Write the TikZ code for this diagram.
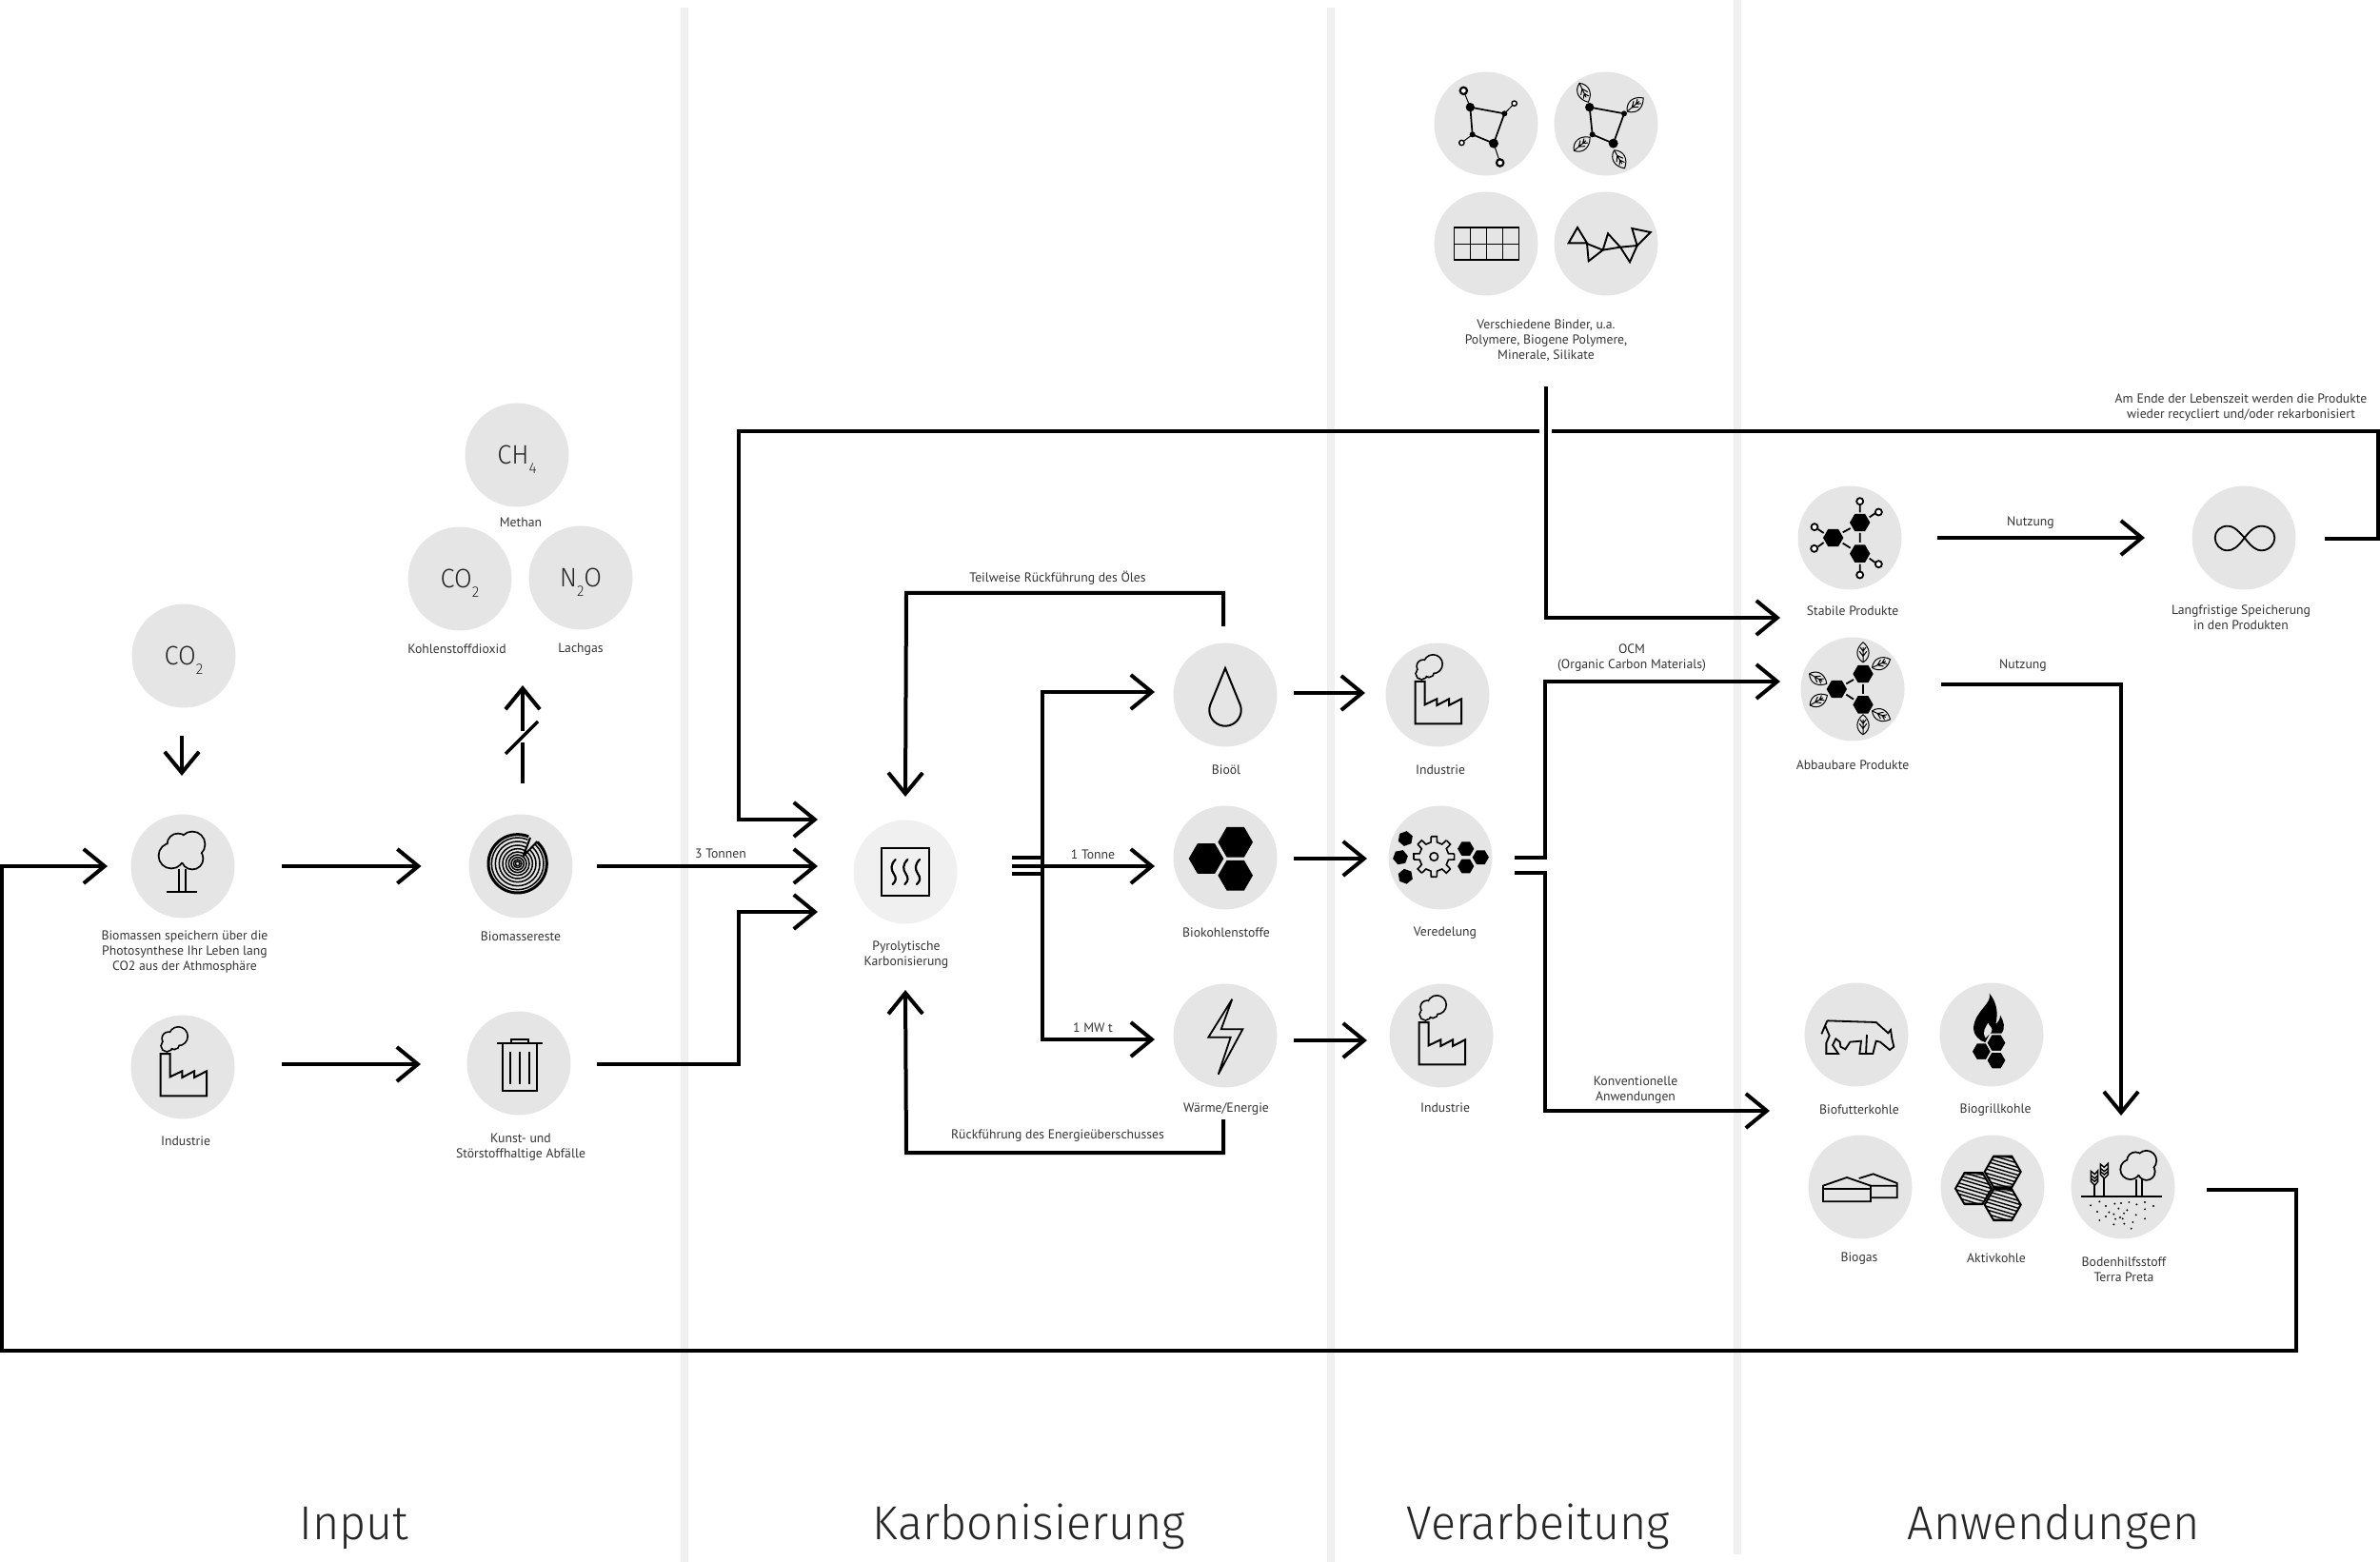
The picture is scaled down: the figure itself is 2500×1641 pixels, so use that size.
\documentclass[tikz,border=0pt]{standalone}
\usepackage{fontspec}
\usetikzlibrary{arrows.meta}
\setmainfont{PT Sans}
\newfontfamily\titlef[FakeStretch=0.97]{Fira Sans Light}
\definecolor{discc}{HTML}{E5E5E5}
\definecolor{discl}{HTML}{F0F0F0}
\definecolor{barc}{HTML}{F0F0F0}
\definecolor{txt}{HTML}{333333}
\newcommand{\hexp}[3]{({#1+#3},{#2}) -- ({#1+.5*#3},{#2+.866*#3}) -- ({#1-.5*#3},{#2+.866*#3}) -- ({#1-#3},{#2}) -- ({#1-.5*#3},{#2-.866*#3}) -- ({#1+.5*#3},{#2-.866*#3}) -- cycle}
\newcommand{\sbb}[1]{\smash{\raisebox{-.65ex}{\fontsize{8}{8}\selectfont #1}}}
% leaf
\newcommand{\leaf}[4]{\begin{scope}[shift={(#1,#2)},rotate=#3,scale=#4,line width=.5pt]
 \draw (-10,0) .. controls (-5,-8) and (4,-7.5) .. (10,0) .. controls (4,7.5) and (-5,8) .. (-10,0);
 \draw (-10,0) -- (5,0) (-4,0) -- (1,-3.6) (-4,0) -- (1,3.6) (1,0) -- (5,-2.8) (1,0) -- (5,2.8);
\end{scope}}
% tree
\newcommand{\treecrown}{%
 \draw[line width=1.8pt] (10,-23) circle[radius=12.5] (-12,-11) circle[radius=12.5] (10,-8) circle[radius=10.5] (-5,-23) circle[radius=10.5];
 \fill[discc] (10,-23) circle[radius=12.5] (-12,-11) circle[radius=12.5] (10,-8) circle[radius=10.5] (-5,-23) circle[radius=10.5] (0,-14) circle[radius=10];
 \draw[line width=1pt] (-4,2.5) -- (-4,27) (3.3,2.5) -- (3.3,27);}
\newcommand{\factory}[1]{\begin{scope}[shift={(#1)},line width=1pt]
 \draw[miter limit=3] (-23.3,-14) -- (-13.3,-14) -- (-13.3,10.3) -- (-.7,4.3) -- (-.7,11) -- (12,4.3) -- (12,11) -- (25,4.3) -- (25,30.3) -- (-23.3,30.3) -- cycle;
 \draw[line width=1.7pt] (-4.7,-32.3) circle[radius=9] (-15,-30) circle[radius=6] (-16.7,-22.3) circle[radius=5.3] (-9,-24) circle[radius=4.7];
 \fill[discc] (-4.7,-32.3) circle[radius=9] (-15,-30) circle[radius=6] (-16.7,-22.3) circle[radius=5.3] (-9,-24) circle[radius=4.7] (-8,-28) circle[radius=5];
\end{scope}}
\tikzset{
 disc/.style={circle,fill=discc,minimum size=54.5pt,inner sep=0pt,outer sep=0pt,font=\titlef\fontsize{14}{14}\selectfont,text=black!85},
 lab/.style={inner sep=0pt,align=center,text=txt,yshift=-.4pt,font=\fontsize{6.85}{8}\selectfont},
 titlelab/.style={inner sep=0pt,anchor=base,text=black!85,font=\titlef\fontsize{25}{28}\selectfont},
 conn/.style={line width=2pt,draw=black,miter limit=10},
 arr/.style={conn,-{Straight Barb[length=11pt,width=18pt,line width=2pt]}},
 sepbar/.style={fill=barc,draw=none},
 zm/.style 2 args={scale=.33333,shift={(-#1,-#2)}},
 ico/.style={line width=1pt,line join=miter},
}
\begin{document}
\begin{tikzpicture}[x=.5pt,y=-.5pt]
\useasboundingbox (0,0) rectangle (2500,1641);
% separators
\fill[sepbar] (715,8) rectangle (723,1641);
\fill[sepbar] (1394,8) rectangle (1402,1641);
\fill[sepbar] (1821,0) rectangle (1829,1633);
% titles
\node[titlelab] (tInput) at (372,1617) {Input};
\node[titlelab] (tKarb) at (1081,1617) {Karbonisierung};
\node[titlelab] (tVer) at (1616,1617) {Verarbeitung};
\node[titlelab] (tAnw) at (2157,1617) {Anwendungen};
% discs
\node[disc] (co2) at (193,689) {CO\sbb{2}};
\node[disc] (ch4) at (543,478) {CH\sbb{4}};
\node[disc] (co2b) at (483,608) {CO\sbb{2}};
\node[disc] (n2o) at (610,607) {N\sbb{2}O};
\node[disc] (tree) at (192,910) {};
\node[disc] (ind) at (192,1121) {};
\node[disc] (bio) at (547,910) {};
\node[disc] (trash) at (545,1117) {};
\node[disc,fill=discl] (pyro) at (951,916) {};
\node[disc] (oil) at (1287,730) {};
\node[disc] (coal) at (1287,901) {};
\node[disc] (heat) at (1287,1088) {};
\node[disc] (indA) at (1510,730) {};
\node[disc] (ver) at (1513,901) {};
\node[disc] (indB) at (1514,1088) {};
\node[disc] (bnA) at (1561,130) {};
\node[disc] (bnB) at (1687,130) {};
\node[disc] (bnC) at (1561,256) {};
\node[disc] (bnD) at (1687,256) {};
\node[disc] (stab) at (1943,565) {};
\node[disc] (abb) at (1946,724) {};
\node[disc] (inf) at (2357,565) {};
\node[disc] (cow) at (1950,1087) {};
\node[disc] (grill) at (2092,1087) {};
\node[disc] (gas) at (1954,1247) {};
\node[disc] (akt) at (2093,1247) {};
\node[disc] (soil) at (2230,1247) {};
% labels
\node[lab] (lMeth) at (547,548) {Methan};
\node[lab] (lKd) at (480,681) {Kohlenstoffdioxid};
\node[lab] (lLach) at (610,681) {Lachgas};
\node[lab] (lTree) at (194,999) {Biomassen speichern über die\\Photosynthese Ihr Leben lang\\CO2 aus der Athmosphäre};
\node[lab] (lInd) at (195,1198) {Industrie};
\node[lab] (lBio) at (547,983) {Biomassereste};
\node[lab] (lTrash) at (547,1204) {Kunst- und\\Störstoffhaltige Abfälle};
\node[lab] (lPyro) at (952,1002) {Pyrolytische\\Karbonisierung};
\node[lab] (lOil) at (1288,808) {Bioöl};
\node[lab] (lCoal) at (1288,979) {Biokohlenstoffe};
\node[lab] (lHeat) at (1288,1164) {Wärme/Energie};
\node[lab] (lIndA) at (1513,808) {Industrie};
\node[lab] (lVer) at (1518,979) {Veredelung};
\node[lab] (lIndB) at (1518,1163) {Industrie};
\node[lab] (lBind) at (1624,357) {Verschiedene Binder, u.a.\\Polymere, Biogene Polymere,\\Minerale, Silikate};
\node[lab] (lStab) at (1946,641) {Stabile Produkte};
\node[lab] (lAbb) at (1946,803) {Abbaubare Produkte};
\node[lab] (lInf) at (2354,648) {Langfristige Speicherung\\in den Produkten};
\node[lab] (lCow) at (1953,1165) {Biofutterkohle};
\node[lab] (lGrill) at (2096,1165) {Biogrillkohle};
\node[lab] (lGas) at (1953,1321) {Biogas};
\node[lab] (lAkt) at (2097,1321) {Aktivkohle};
\node[lab] (lSoil) at (2231,1333) {Bodenhilfsstoff\\Terra Preta};
\node[lab] (lTon) at (757,896) {3 Tonnen};
\node[lab] (lOne) at (1148,897) {1 Tonne};
\node[lab] (lMW) at (1148,1079) {1 MW t};
\node[lab] (lTeil) at (1111,606) {Teilweise Rückführung des Öles};
\node[lab] (lRuck) at (1111,1192) {Rückführung des Energieüberschusses};
\node[lab] (lOcm) at (1714,690) {OCM\\(Organic Carbon Materials)};
\node[lab] (lKonv) at (1718,1144) {Konventionelle\\Anwendungen};
\node[lab] (lNuA) at (2133,548) {Nutzung};
\node[lab] (lNuB) at (2125,698) {Nutzung};
\node[lab] (lEnd) at (2354,427) {Am Ende der Lebenszeit werden die Produkte\\wieder recycliert und/oder rekarbonisiert};
% free coordinates
\coordinate (gUp) at (549,720);
\coordinate (gGapA) at (549,780);
\coordinate (gGapB) at (549,768);
\coordinate (slA) at (531,792);
\coordinate (slB) at (565,758);
\coordinate (vTop) at (1624,406);
\coordinate (gapL) at (1617,453);
\coordinate (gapR) at (1630,453);
% connectors: input column
\draw[arr] ([xshift=-1pt,yshift=-14.75pt]co2.south) -- ([xshift=-.5pt,yshift=20.25pt]tree.north);
\draw[arr] ([xshift=24.5pt]tree.east) -- ([xshift=-25pt]bio.west);
\draw[arr] ([xshift=24.5pt,yshift=1.5pt]ind.east) -- ([xshift=-24.25pt,yshift=-.5pt]trash.west);
\draw[conn] ([xshift=1pt,yshift=16.25pt]bio.north) -- (gGapA);
\draw[arr] (gGapB) -- (gUp);
\draw[line width=1.6pt] (slA) -- (slB);
% into pyrolysis
\draw[arr] ([xshift=12.75pt]bio.east) -- ([xshift=-18.75pt,yshift=3pt]pyro.west);
\draw[arr] ([xshift=13.75pt,yshift=-.5pt]trash.east) -- (776,1118) -- (776,958) -- ([xshift=-18.75pt,yshift=-21pt]pyro.west);
\draw[arr] (gapL) -- (776,453) -- (776,861) -- ([xshift=-18.75pt,yshift=27.5pt]pyro.west);
% out of pyrolysis
\draw[conn] ([xshift=28.75pt,yshift=7.5pt]pyro.east) -- (1095,901);
\draw[conn] ([xshift=28.75pt,yshift=-1pt]pyro.east) -- (1095,918);
\draw[arr] ([xshift=28.75pt,yshift=3pt]pyro.east) -- ([xshift=-9.75pt,yshift=-4.5pt]coal.west);
\draw[arr] (1095,910) -- (1095,727) -- ([xshift=-9.75pt,yshift=1.5pt]oil.west);
\draw[arr] (1095,910) -- (1095,1092) -- ([xshift=-9.75pt,yshift=-2pt]heat.west);
\draw[arr] ([xshift=-1pt,yshift=8.75pt]oil.north) -- (1285,623) -- (952,623) -- ([yshift=12.25pt]pyro.north);
\draw[arr] ([xshift=-1pt,yshift=-16.75pt]heat.south) -- (1285,1211) -- (952,1211) -- ([yshift=-34.75pt]pyro.south);
% processing
\draw[arr] ([xshift=8.75pt,yshift=1pt]oil.east) -- ([xshift=-10.75pt,yshift=1pt]indA.west);
\draw[arr] ([xshift=8.75pt,yshift=-.5pt]coal.east) -- ([xshift=-11.25pt,yshift=-.5pt]ver.west);
\draw[arr] ([xshift=8.75pt,yshift=-2.5pt]heat.east) -- ([xshift=-11.75pt,yshift=-2.5pt]indB.west);
\draw[arr] ([xshift=11.75pt]ver.east) -- (1623,901) -- (1623,716) -- ([xshift=-10.75pt,yshift=4pt]abb.west);
\draw[arr] ([xshift=11.75pt,yshift=-8pt]ver.east) -- (1623,917) -- (1623,1167) -- ([xshift=-18.25pt,yshift=-40pt]cow.west);
\draw[arr] (vTop) -- (1624,649) -- ([xshift=-9.25pt,yshift=-42pt]stab.west);
% applications
\draw[arr] ([xshift=18.75pt]stab.east) -- ([xshift=-24.75pt]inf.west);
\draw[arr] ([xshift=19.25pt,yshift=2.5pt]abb.east) -- (2228,719) -- ([xshift=-1pt,yshift=10.25pt]soil.north);
\draw[conn] ([xshift=15pt,yshift=-.5pt]inf.east) -- (2498,566) -- (2498,453) -- (gapR);
\draw[arr] ([xshift=16.75pt,yshift=-1.5pt]soil.east) -- (2412,1250) -- (2412,1419) -- (2,1419) -- (2,910) -- ([xshift=-12.25pt]tree.west);

% ---- icons ----
\begin{scope}[shift={(tree)}]\treecrown\draw[line width=1pt] (-17,27) -- (15,27);\end{scope}
\factory{ind}\factory{indA}\factory{indB}
% wood
\begin{scope}[shift={(bio)},zm={380}{240},line width=.75pt]
 \foreach \r in {7,13,20,28,37,47,58,70,82}{\draw (370,232) circle[radius=\r];}
 \draw[line width=1.5pt] (370,232) circle[radius=92];
 \fill[discc] (388,208) -- (410,130) -- (445,150) -- cycle;
 \draw[line width=1pt] (388,208) -- (410,150) (388,208) -- (432,162);
\end{scope}
% trash
\begin{scope}[shift={(trash)},zm={376}{860},ico]
 \draw (308,797) -- (450,797) (352,797) -- (352,785) -- (407,785) -- (407,797);
 \draw (326,797) -- (326,948) -- (434,948) -- (434,797);
 \draw (350,825) -- (350,925) (380,825) -- (380,925) (408,825) -- (408,925);
\end{scope}
% pyro
\begin{scope}[shift={(pyro)},zm={243}{227},line width=1.2pt]
 \draw (168,152) rectangle (318,302);
 \foreach \d in {0,38,76}{\draw[line cap=round,line width=1.1pt] (212+\d,188) .. controls (195+\d,205) and (198+\d,220) .. (206+\d,232) .. controls (215+\d,245) and (215+\d,255) .. (203+\d,266);}
\end{scope}
% drop
\begin{scope}[shift={(oil)},line width=1pt]
 \draw (0,-28) -- (-15.7,10.3) arc[start angle=200,end angle=-20,radius=16.7] -- cycle;
\end{scope}
% coal
\begin{scope}[shift={(coal)}]
 \fill \hexp{-20}{1}{18.3}; \fill \hexp{10.7}{-16.3}{18.3}; \fill \hexp{10.7}{18.7}{18.3};
\end{scope}
% bolt
\begin{scope}[shift={(heat)},line width=.9pt]
 \draw[miter limit=4] (7.3,-38.3) -- (-17.7,1.7) -- (5.7,1.7) -- (-7.3,40.7) -- (18.3,-6.7) -- (-4.3,-6.7) -- cycle;
\end{scope}
% gear
\begin{scope}[shift={(ver)}]
 \fill[rotate around={20:(-36.7,-20)}] \hexp{-36.7}{-20}{8};
 \fill[rotate around={10:(-42,-.3)}] \hexp{-42}{-.3}{8};
 \fill[rotate around={-20:(-36.7,19.7)}] \hexp{-36.7}{19.7}{8};
 \fill \hexp{26.7}{-9.3}{8.6}; \fill \hexp{26.7}{9}{8.6}; \fill \hexp{42.3}{-.3}{8.6};
 \begin{scope}[shift={(-6.7,-1)},line width=.8pt]
  \draw (0,0) circle[radius=4.3];
  \foreach \a in {0,45,...,315}{
   \draw ({\a-8}:21.5) -- ({\a+8}:21.5) -- ({\a+12}:15.5) -- ({\a+33}:15.5) -- ({\a+37}:21.5);}
 \end{scope}
\end{scope}
% binder A
\begin{scope}[shift={(bnA)},zm={333}{240}]
 \draw[line width=.85pt] (283,188) -- (391,208) -- (357,302) -- (290,274) -- cycle;
 \draw[line width=.5pt] (283,188) -- (262,136) (391,208) -- (422,176) (290,274) -- (256,300) (357,302) -- (377,363);
 \fill (283,188) circle[radius=14] (391,208) circle[radius=9] (290,274) circle[radius=9] (357,302) circle[radius=15];
 \draw[line width=1.1pt,fill=white] (262,136) circle[radius=11] (377,363) circle[radius=11];
 \draw[line width=.7pt,fill=white] (422,176) circle[radius=8] (256,300) circle[radius=8];
\end{scope}
% binder B
\begin{scope}[shift={(bnB)}]
 \leaf{-23.3}{-32.7}{-65}{1.1}\leaf{30.7}{-20}{40}{1.1}\leaf{-25.3}{21.3}{40}{1.1}\leaf{14}{37.3}{-60}{1.1}
 \begin{scope}[zm={710}{240}]
 \draw[line width=.85pt] (658,188) -- (767,208) -- (733,302) -- (667,274) -- cycle;
 \fill (658,188) circle[radius=14] (767,208) circle[radius=9] (667,274) circle[radius=9] (733,302) circle[radius=15];
 \end{scope}
\end{scope}
% binder C
\begin{scope}[shift={(bnC)},zm={333}{617},line width=.75pt]
 \draw (232,566) rectangle (436,668);
 \draw (283,566) -- (283,668) (334,566) -- (334,668) (385,566) -- (385,668) (232,618) -- (436,618);
\end{scope}
% binder D
\begin{scope}[shift={(bnD)},zm={710}{617},line width=.95pt]
 \draw (620,566) -- (592,615) -- (650,615) -- cycle;
 \draw (650,617) -- (655,672) -- (700,637) -- cycle;
 \draw (700,637) -- (716,585) -- (755,628) -- cycle;
 \draw (755,628) -- (785,675) -- (808,623) -- cycle;
 \draw (808,623) -- (792,569) -- (850,581) -- cycle;
\end{scope}
% stable
\begin{scope}[shift={(stab)},zm={250}{255}]
 \fill \hexp{198}{255}{32}; \fill \hexp{282}{207}{32}; \fill \hexp{282}{305}{32};
 \draw[line width=.9pt] (228,238) -- (252,225) (228,272) -- (252,287) (282,240) -- (282,270) (282,175) -- (282,150) (312,190) -- (330,178) (312,320) -- (330,333) (282,338) -- (282,360) (168,240) -- (150,228) (168,270) -- (150,283);
 \draw[line width=.9pt,fill=white] (282,140) circle[radius=10.5] (341,174) circle[radius=10.5] (341,338) circle[radius=10.5] (282,372) circle[radius=10.5] (139,221) circle[radius=10.5] (138,289) circle[radius=10.5];
\end{scope}
% biodegradable
\begin{scope}[shift={(abb)}]
 \leaf{11}{-38.7}{90}{1.05}\leaf{30}{-27}{25}{1.05}\leaf{30}{27.3}{-25}{1.05}\leaf{11}{37.3}{90}{1.05}\leaf{-36.3}{-11}{-30}{1.05}\leaf{-35.7}{11.7}{30}{1.05}
 \begin{scope}[zm={257}{733}]
 \fill \hexp{207}{733}{32}; \fill \hexp{290}{685}{32}; \fill \hexp{290}{782}{32};
 \draw[line width=.9pt] (237,716) -- (260,703) (237,750) -- (260,765) (290,718) -- (290,748);
 \end{scope}
\end{scope}
% infinity
\begin{scope}[shift={(inf)},zm={230}{195},line width=.9pt]
 \draw (232,195) .. controls (205,165) and (195,158) .. (178,158) .. controls (155,158) and (139,175) .. (139,195) .. controls (139,215) and (155,235) .. (178,235) .. controls (195,235) and (210,225) .. (232,195) .. controls (255,165) and (270,158) .. (285,158) .. controls (310,158) and (327,175) .. (327,195) .. controls (327,215) and (310,235) .. (285,235) .. controls (270,235) and (255,225) .. (232,195) -- cycle;
\end{scope}
% cow
\begin{scope}[shift={(cow)},zm={210}{202},line width=.9pt]
 \draw (118,158) -- (272,163) -- (310,197) -- (318,187) -- (322,215) -- (328,240) -- (315,250) -- (285,225) -- (272,222) -- (262,262) -- (240,262) -- (243,202);
 \draw (118,158) -- (100,200) (112,175) -- (125,205) -- (115,228) -- (115,262) -- (153,262) -- (135,235) -- (145,215) -- (158,225) -- (160,240) -- (175,248) -- (190,225) -- (225,222) -- (220,262) -- (240,262);
\end{scope}
% flame
\begin{scope}[shift={(grill)},zm={637}{202}]
 \fill (630,72) .. controls (640,105) and (585,125) .. (580,180) .. controls (580,205) and (600,222) .. (617,226) -- (632,198) -- (668,198) .. controls (682,180) and (675,160) .. (664,140) .. controls (665,155) and (655,165) .. (650,168) .. controls (660,130) and (650,95) .. (630,72) -- cycle;
 \fill[discc] (618,212) .. controls (605,190) and (620,178) .. (626,165) .. controls (630,178) and (645,180) .. (635,196) -- cycle;
 \filldraw[draw=discc,line width=.7pt] \hexp{605}{255}{31}; \filldraw[draw=discc,line width=.7pt] \hexp{652}{228}{31}; \filldraw[draw=discc,line width=.7pt] \hexp{652}{283}{31};
\end{scope}
% biogas
\begin{scope}[shift={(gas)},zm={222}{682},line width=.9pt]
 \draw (218,655) -- (263,641) -- (338,670) -- (338,716) -- (255,716) (255,678) -- (338,678);
 \fill[discc] (105,688) -- (105,678) -- (180,652) -- (255,678) -- (255,728) -- (105,728) -- cycle;
 \draw (105,688) -- (105,678) -- (180,652) -- (255,678) -- (255,728) -- (105,728) -- cycle (105,688) -- (255,688);
\end{scope}
% activated carbon
\begin{scope}[shift={(akt)},zm={640}{682}]
 \foreach \cx/\cy in {580/687,672/634,672/738}{
  \begin{scope}
   \clip \hexp{\cx}{\cy}{57};
   \fill[black!45] (\cx-60,\cy-60) rectangle (\cx+60,\cy+60);
   \fill[discc] (\cx-60,\cy-42) rectangle (\cx+60,\cy+42);
   \foreach \o in {-52,-41,-28,-17,-4,7,20,31,44,55}{\draw[line width=.7pt] (\cx-60,\cy+\o-18) -- (\cx+60,\cy+\o+18);}
  \end{scope}
  \draw[line width=1pt] \hexp{\cx}{\cy}{57};}
\end{scope}
% soil
\begin{scope}[shift={(soil)},zm={1049}{682}]
 \begin{scope}[shift={(1100,652)},scale=2.3]\treecrown\end{scope}
 \draw[line width=1pt] (918,712) -- (1173,712);
 \draw[line width=.9pt] (960,712) -- (960,677) (990,712) -- (990,655);
 \draw[line width=.7pt] (948,632) -- (960,642) -- (970,630) -- (970,665) -- (960,677) -- (948,665) -- cycle (948,645) -- (960,655) -- (970,645) (948,655) -- (960,665) -- (970,655);
 \draw[line width=.7pt] (978,610) -- (990,620) -- (1002,608) -- (1002,643) -- (990,655) -- (978,643) -- cycle (978,623) -- (990,633) -- (1002,623) (978,633) -- (990,643) -- (1002,633);
 \foreach \x/\y in {947/740,975/728,995/742,1023/735,1043/733,1068/730,1092/737,1118/730,1145/742,1118/752,1062/755,1052/765,1035/750,1005/762,968/760,1020/768,995/775,1040/778,1025/783,1048/782,1090/770,975/787,1020/800,1053/798,1080/793,1118/782,1075/813}{\fill (\x,\y) circle[radius=3.2];}
\end{scope}
\end{tikzpicture}
\end{document}
